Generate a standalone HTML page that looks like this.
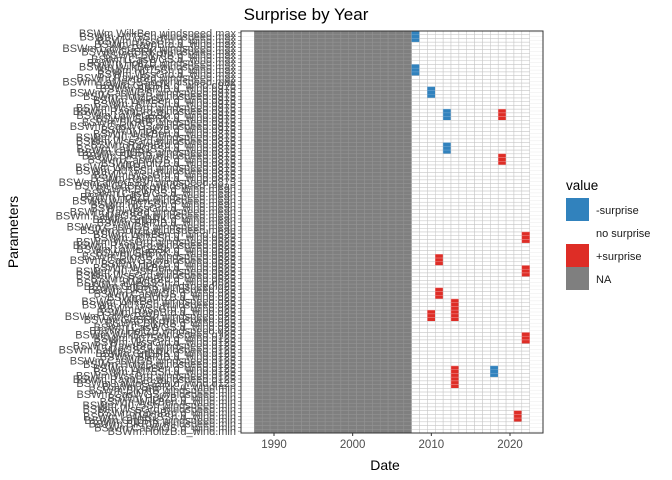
<!DOCTYPE html>
<html><head><meta charset="utf-8"><style>
body{margin:0;background:#fff;font-family:"Liberation Sans",sans-serif}
svg{display:block}
</style></head><body>
<svg id="c" width="672" height="480" xmlns="http://www.w3.org/2000/svg">
<text x="306" y="20" font-size="17" text-anchor="middle" fill="#000">Surprise by Year</text>
<g id="tiles"></g>
<g id="ylabels"></g>
<g id="xaxis"></g>
<rect x="241" y="31" width="302" height="402" fill="none" stroke="#333" stroke-width="1"/>
<text x="385" y="470" font-size="14" text-anchor="middle">Date</text>
<text transform="translate(18,232) rotate(-90)" font-size="14" text-anchor="middle">Parameters</text>
<g>
<text x="566" y="190" font-size="13.5">value</text>
<rect x="566" y="198" width="23" height="23" fill="#3182bd"/>
<rect x="566" y="221" width="23" height="23" fill="#ffffff"/>
<rect x="566" y="244" width="23" height="23" fill="#de2d26"/>
<rect x="566" y="267" width="23" height="23" fill="#7f7f7f"/>
<text x="596" y="214" font-size="11" fill="#1a1a1a">-surprise</text>
<text x="596" y="237" font-size="11" fill="#1a1a1a">no surprise</text>
<text x="596" y="260" font-size="11" fill="#1a1a1a">+surprise</text>
<text x="596" y="283" font-size="11" fill="#1a1a1a">NA</text>
</g>
</svg>
<script>
const years=[];for(let y=1988;y<=2022;y++)years.push(y);
const nRows=108;
const firstDataYear=2008;
// events: [year, startRow, endRow, value] value -1 / +1
const evYears=[2008,2008,2010,2012,2019,2012,2019,2022,2011,2022,2011,2013,2010,2022,2013,2018,2021];
const evStart=[0,9,15,21,21,30,33,54,60,63,69,72,75,81,90,90,102];
const evEnd=[2,11,17,23,23,32,35,56,62,65,71,77,77,83,95,92,104];
const evVal=[-1,-1,-1,-1,1,-1,1,1,1,1,1,1,1,1,1,-1,1];
const xTicks=[1990,2000,2010,2020];
const stations=["WilkBen","H075Sh","WssGrd","RavnBrd","LaMeGSSh","GrtBRK","BlkRtB","CasWGS","HoltzB"];
const vars=["windspeed","d_wind"];
const stats=["max","q975","q875","mean","q625","q25","q125","min"];

const NS="http://www.w3.org/2000/svg";
const px0=241,px1=543,py0=31,py1=433;
const xs=y=>274+(y-1990)*7.867;
const rh=(py1-py0)/nRows;
const ys=r=>py0+r*rh;
const tg=document.getElementById('tiles');
function mk(t,a){const e=document.createElementNS(NS,t);for(const k in a)e.setAttribute(k,a[k]);return e;}
const cw=xs(1)-xs(0);
for(let r=0;r<nRows;r++){
  const l=mk('line',{x1:px0,x2:px1,y1:ys(r)+rh/2,y2:ys(r)+rh/2,stroke:'#ebebeb','stroke-width':0.5});
  
  
  tg.appendChild(l);
}
const val={};
evYears.forEach((y,i)=>{for(let r=evStart[i];r<=evEnd[i];r++)val[y+'_'+r]=evVal[i];});
years.forEach(y=>{
  for(let r=0;r<nRows;r++){
    let fill,stroke;
    if(y<firstDataYear){fill='#7f7f7f';stroke='#959595';}
    else{const v=val[y+'_'+r];fill=v===-1?'#3182bd':v===1?'#de2d26':'#ffffff';stroke=v?'#e88':'#c4c4c4';if(v===-1)stroke='#6aa3d0';}
    const rc=mk('rect',{x:xs(y)-cw/2,y:ys(r),width:cw,height:rh,fill:fill,stroke:stroke,'stroke-width':0.5});
    
    
    tg.appendChild(rc);
  }
});
const yl=document.getElementById('ylabels');
for(let r=0;r<nRows;r++){
  const st=stats[Math.floor(r/(nRows/stats.length))%stats.length];
  const nm='BSWm.'+stations[r%stations.length]+'.'+vars[(r>>1)%2]+'.'+st;
  const t=mk('text',{x:236,y:ys(r)+rh/2+4,'font-size':11,'text-anchor':'end',fill:'#4d4d4d'});
  t.textContent=nm;
  
  
  yl.appendChild(t);
  const tk=mk('line',{x1:238,x2:241,y1:ys(r)+rh/2,y2:ys(r)+rh/2,stroke:'#333','stroke-width':0.5});
  
  
  yl.appendChild(tk);
}
const xa=document.getElementById('xaxis');
xTicks.forEach(v=>{
  const tk=mk('line',{x1:xs(v),x2:xs(v),y1:py1,y2:py1+3,stroke:'#333','stroke-width':1});
  
  
  xa.appendChild(tk);
  const t=mk('text',{x:xs(v),y:py1+15,'font-size':11.5,'text-anchor':'middle',fill:'#4d4d4d'});
  t.textContent=v;
  
  
  xa.appendChild(t);
});
</script>
</body></html>
